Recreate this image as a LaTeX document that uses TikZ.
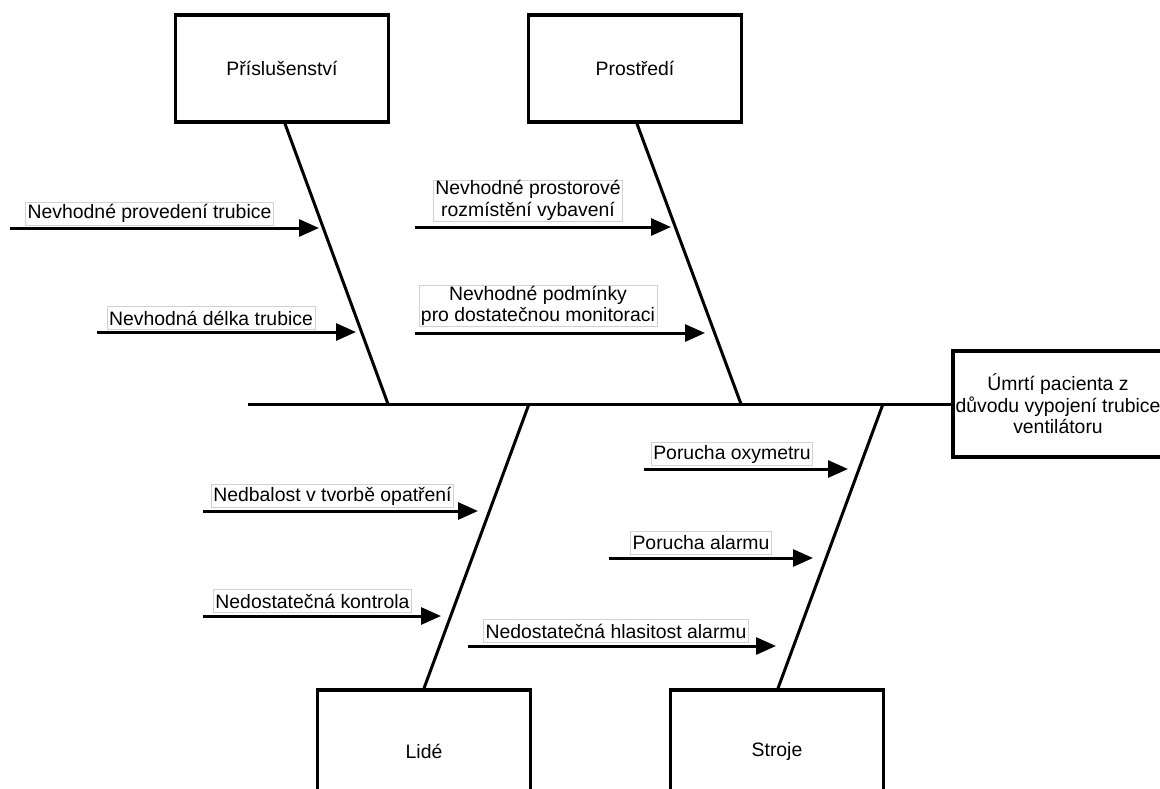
\documentclass[tikz,border=0pt]{standalone}
\usepackage{fontspec}
\setmainfont{Liberation Sans}
\usetikzlibrary{arrows.meta}
\begin{document}
\begin{tikzpicture}[x=1pt,y=-1pt,
  txt/.style={font=\fontsize{19.4}{21.5}\selectfont,align=center},
  catbox/.style={txt,draw=black,line width=3.5pt,fill=white,inner sep=0pt,
                 minimum width=213pt,minimum height=107pt},
  lbl/.style={txt,draw=black!18,line width=0.6pt,fill=white,
              inner xsep=2pt,inner ysep=0.5pt,minimum height=23pt},
  bone/.style={line width=3pt},
  cause/.style={line width=3pt,-{Triangle[length=20pt,width=17pt]}}]
\useasboundingbox (0,0) rectangle (1160,788);
\clip (0,0) rectangle (1160,788);
\fill[white] (0,0) rectangle (1160,788);

% effect box and categories
\node[catbox,minimum width=210pt,minimum height=106pt] (effect) at (1058,404)
  {Úmrtí pacienta z\\důvodu vypojení trubice\\ventilátoru};
\node[catbox] (acc) at (282,68.5) {Příslušenství};
\node[catbox] (env) at (635,68.5) {Prostředí};
\node[catbox,minimum height=122pt] (ppl) at (424,751) {Lidé};
\node[catbox,minimum height=122pt] (mach) at (777,751) {Stroje};

% spine and junctions
\coordinate (tail) at (248,404);
\coordinate (j1) at (388,404);
\coordinate (j2) at (529,404);
\coordinate (j3) at (741,404);
\coordinate (j4) at (883,404);
\draw[bone] (tail) -- (effect.west);
\draw[bone] ([xshift=3pt]acc.south) -- (j1);
\draw[bone] ([xshift=2pt]env.south) -- (j3);
\draw[bone] (ppl.north) -- (j2);
\draw[bone] ([xshift=1pt]mach.north) -- (j4);

% redraw boxes over bone ends
\node[catbox,minimum width=210pt,minimum height=106pt] at (1058,404)
  {Úmrtí pacienta z\\důvodu vypojení trubice\\ventilátoru};
\node[catbox] at (282,68.5) {Příslušenství};
\node[catbox] at (635,68.5) {Prostředí};
\node[catbox,minimum height=122pt] at (424,751) {Lidé};
\node[catbox,minimum height=122pt] at (777,751) {Stroje};

% cause labels
\node[lbl] (c1) at (149.5,213.5) {Nevhodné provedení trubice};
\node[lbl] (c2) at (211,318) {Nevhodná délka trubice};
\node[lbl] (c3) at (528,200.5) {Nevhodné prostorové\\rozmístění vybavení};
\node[lbl] (c4) at (538,306) {Nevhodné podmínky\\pro dostatečnou monitoraci};
\node[lbl] (c5) at (332.5,496) {Nedbalost v tvorbě opatření};
\node[lbl] (c6) at (312.5,601) {Nedostatečná kontrola};
\node[lbl] (c7) at (732,454) {Porucha oxymetru};
\node[lbl] (c8) at (701,543) {Porucha alarmu};
\node[lbl] (c9) at (616,631) {Nedostatečná hlasitost alarmu};

% cause arrows
\coordinate (a1s) at (10,228);   \coordinate (a1e) at (319,228);
\coordinate (a2s) at (97,332);   \coordinate (a2e) at (356,332);
\coordinate (a3s) at (415,227);  \coordinate (a3e) at (671,227);
\coordinate (a4s) at (415,333);  \coordinate (a4e) at (705,333);
\coordinate (a5s) at (203,511);  \coordinate (a5e) at (478,511);
\coordinate (a6s) at (203,616);  \coordinate (a6e) at (441,616);
\coordinate (a7s) at (644,469);  \coordinate (a7e) at (848,469);
\coordinate (a8s) at (609,558);  \coordinate (a8e) at (813,558);
\coordinate (a9s) at (468,646);  \coordinate (a9e) at (776,646);
\foreach \i in {1,...,9}{\draw[cause] (a\i s) -- (a\i e);}
\end{tikzpicture}
\end{document}
